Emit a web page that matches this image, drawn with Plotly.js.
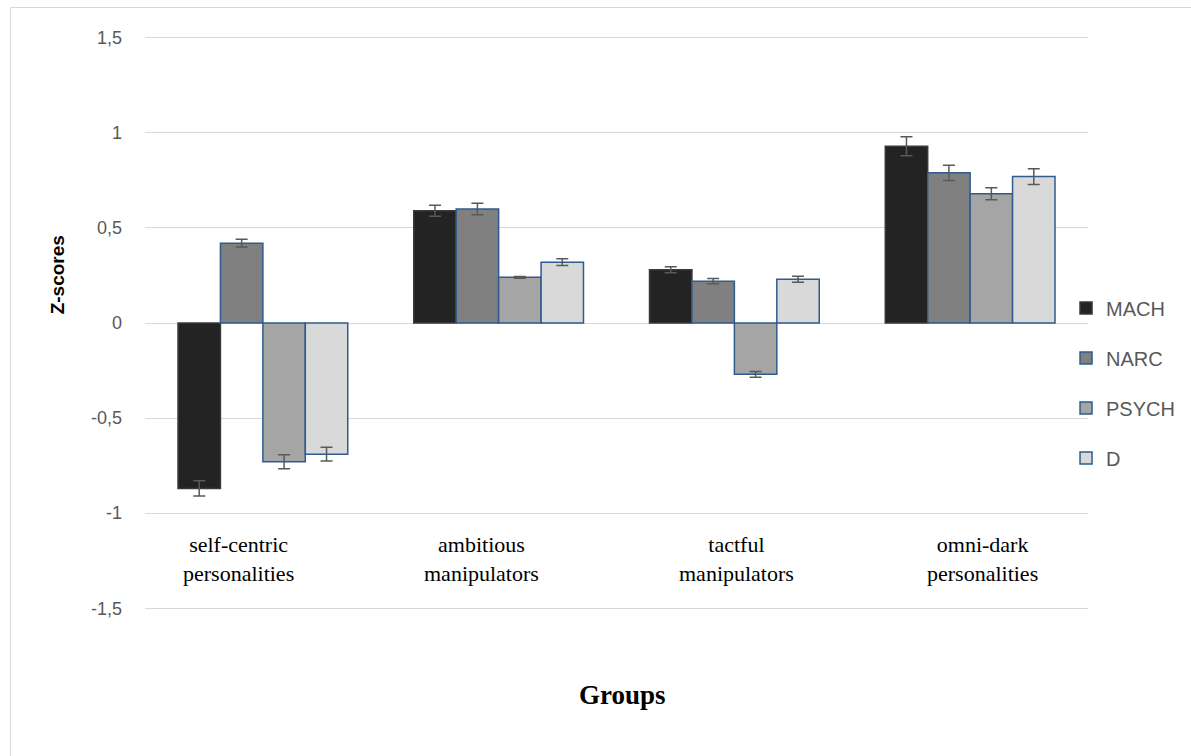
<!DOCTYPE html>
<html>
<head>
<meta charset="utf-8">
<script src="https://cdn.plot.ly/plotly-3.0.1.min.js"></script>
<style>
  html, body { margin: 0; padding: 0; background: #fff; }
  #wrap { position: relative; width: 1191px; height: 756px; overflow: hidden; }
  #chart { width: 1191px; height: 756px; }
  #frame { position: absolute; left: 10px; top: 7px; width: 1190px; height: 800px; border: 1px solid #d9d9d9; box-sizing: border-box; pointer-events: none; }
</style>
</head>
<body>
<div id="wrap">
  <div id="chart"></div>
  <div id="frame"></div>
</div>
<script>
// Data
const categories = ["self-centric personalities", "ambitious manipulators", "tactful manipulators", "omni-dark personalities"];
const categoryLabels = ["self-centric<br>personalities", "ambitious<br>manipulators", "tactful<br>manipulators", "omni-dark<br>personalities"];
const seriesNames = ["MACH", "NARC", "PSYCH", "D"];
const machValues  = [-0.87, 0.59, 0.28, 0.93];
const narcValues  = [0.42, 0.60, 0.22, 0.79];
const psychValues = [-0.73, 0.24, -0.27, 0.68];
const dValues     = [-0.69, 0.32, 0.23, 0.77];
const machErrors  = [0.04, 0.029, 0.016, 0.05];
const narcErrors  = [0.02, 0.03, 0.014, 0.04];
const psychErrors = [0.037, 0.005, 0.015, 0.032];
const dErrors     = [0.036, 0.018, 0.016, 0.041];
const yTickVals = [-1.5, -1, -0.5, 0, 0.5, 1, 1.5];
const yTickText = ["-1,5", "-1", "-0,5", "0", "0,5", "1", "1,5"];

// Styles
const fills = ["#232323", "#808080", "#a5a5a5", "#d9d9d9"];
const borders = ["#3a3a3a", "#2f5b8e", "#2f5b8e", "#2f5b8e"];
const labelShift = [-24, -17, 2, 12];

const values = [machValues, narcValues, psychValues, dValues];
const errors = [machErrors, narcErrors, psychErrors, dErrors];

const traces = seriesNames.map((name, i) => ({
  type: "bar",
  name: name,
  x: categories,
  y: values[i],
  legendgroup: name,
  marker: { color: fills[i], line: { color: borders[i], width: 1.5 } },
  error_y: { type: "data", array: errors[i], visible: true, color: "#595959", thickness: 1.5, width: 6 },
  hoverinfo: "x+y+name"
}));

const annotations = categories.map((c, i) => ({
  x: c, xref: "x", y: 0.092, yref: "paper",
  text: categoryLabels[i], showarrow: false, xshift: labelShift[i],
  font: { family: "Liberation Serif, Times New Roman, serif", size: 22, color: "#000" },
  align: "center", xanchor: "center", yanchor: "middle"
}));
annotations.push({
  x: -0.093, xref: "paper", y: 0.583, yref: "paper",
  text: "<b>Z-scores</b>", showarrow: false, textangle: -90,
  font: { family: "Liberation Sans, Arial, sans-serif", size: 19, color: "#000" },
  xanchor: "center", yanchor: "middle"
});
annotations.push({
  x: 0.506, xref: "paper", y: -0.143, yref: "paper",
  text: "<b>Groups</b>", showarrow: false,
  font: { family: "Liberation Serif, Times New Roman, serif", size: 27, color: "#000" },
  xanchor: "center", yanchor: "middle"
});

const layout = {
  width: 1191, height: 756,
  margin: { l: 145, r: 103, t: 33.7, b: 143.7, pad: 0, autoexpand: false },
  paper_bgcolor: "#fff", plot_bgcolor: "#fff",
  separators: ", ",
  barmode: "group", bargap: 0.28, bargroupgap: 0,
  showlegend: true,
  legend: {
    x: 0.9767, xanchor: "left", y: 0.396, yanchor: "middle",
    traceorder: "grouped", tracegroupgap: 21,
    font: { family: "Liberation Sans, Arial, sans-serif", size: 20, color: "#595959" },
    itemwidth: 30, bgcolor: "rgba(0,0,0,0)"
  },
  xaxis: {
    showticklabels: false, showgrid: false, zeroline: false, showline: false, ticks: "",
    fixedrange: true
  },
  yaxis: {
    range: [-1.52, 1.52], tickvals: yTickVals, ticktext: yTickText,
    showgrid: true, gridcolor: "#d9d9d9", gridwidth: 1,
    zeroline: true, zerolinecolor: "#d9d9d9", zerolinewidth: 1,
    showline: false, ticks: "", ticklabelstandoff: 22,
    tickfont: { family: "Liberation Sans, Arial, sans-serif", size: 18, color: "#595959" },
    fixedrange: true
  },
  annotations: annotations
};

Plotly.newPlot("chart", traces, layout, { displayModeBar: false });
</script>
</body>
</html>
